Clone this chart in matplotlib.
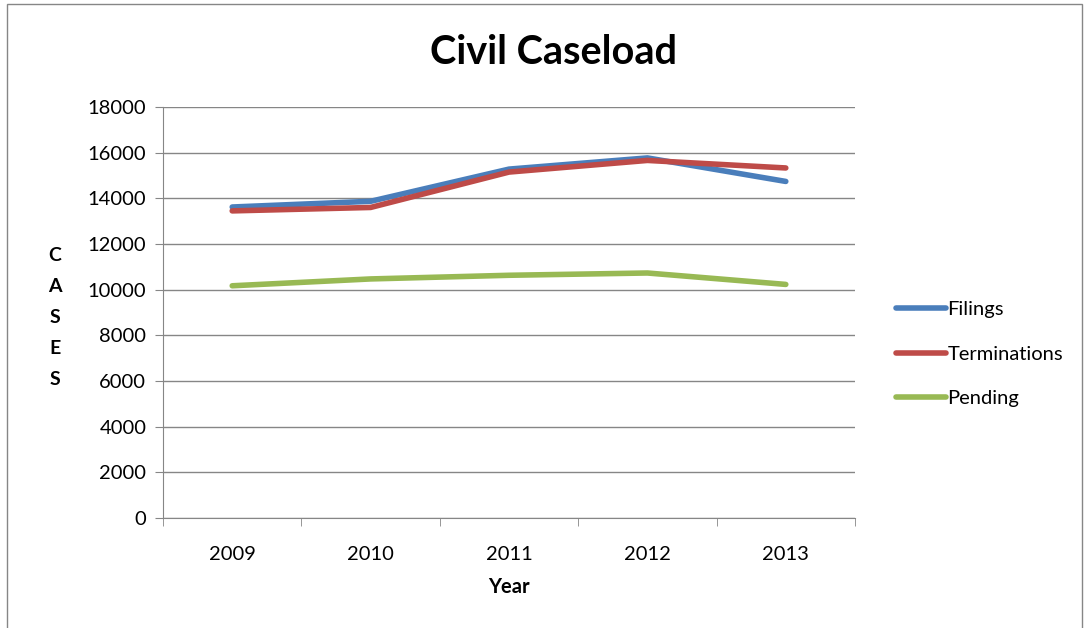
import matplotlib
matplotlib.use('Agg')
import matplotlib.pyplot as plt
from matplotlib.patches import Rectangle
import numpy

years = ['2009', '2010', '2011', '2012', '2013']
filings = [13620, 13870, 15280, 15770, 14740]
terminations = [13450, 13600, 15150, 15660, 15330]
pending = [10170, 10470, 10630, 10730, 10230]

plt.rcParams['font.family'] = ['Lato', 'DejaVu Sans']

fig = plt.figure(figsize=(10.89, 6.28), dpi=100)
ax = fig.add_axes([163 / 1089., 1 - 518 / 628., (855 - 163) / 1089., (518 - 107) / 628.])

# outer chart border (bottom edge pushed off the canvas)
fig.patches.append(Rectangle((7 / 1089., -0.05), 1075 / 1089., 1.05 - 4 / 628., transform=fig.transFigure,
                             fill=False, edgecolor='#868686', linewidth=1))

x = numpy.arange(len(years))
ax.plot(x, filings, color='#4A7EBB', linewidth=4, solid_capstyle='round', label='Filings')
ax.plot(x, terminations, color='#BE4B48', linewidth=4, solid_capstyle='round', label='Terminations')
ax.plot(x, pending, color='#98B954', linewidth=4, solid_capstyle='round', label='Pending')

ax.set_xlim(-0.5, len(years) - 0.5)
ax.set_ylim(0, 18000)
ax.set_yticks(numpy.arange(0, 18001, 2000))
ax.set_xticks(x)
ax.set_xticklabels(years)
ax.set_xticks(numpy.arange(-0.5, len(years), 1), minor=True)
ax.tick_params(axis='x', which='major', length=0, labelsize=14.5, pad=20)
ax.tick_params(axis='x', which='minor', length=6, color='#868686')
ax.tick_params(axis='y', length=6, color='#868686', labelsize=14.5, pad=6)

ax.grid(True, axis='y', color='#868686', linewidth=1)
ax.set_axisbelow(True)
for s in ['top', 'right']:
    ax.spines[s].set_visible(False)
for s in ['left', 'bottom']:
    ax.spines[s].set_color('#868686')

fig.text(553 / 1089., 1 - 52 / 628., 'Civil Caseload', ha='center', va='center',
         fontsize=28.5, fontweight='bold')
fig.text(509 / 1089., 1 - 587 / 628., 'Year', ha='center', va='center', fontsize=14.5, fontweight='bold')
fig.text(55 / 1089., 1 - 317 / 628., 'C\nA\nS\nE\nS', ha='center', va='center', fontsize=14,
         fontweight='bold', linespacing=2.0)

ax.legend(loc='center left', bbox_to_anchor=(878 / 1089., 1 - 354 / 628.), bbox_transform=fig.transFigure,
          frameon=False, fontsize=14.5, handlelength=2.5, handletextpad=0.05, labelspacing=1.35)

fig.savefig('out.png', dpi=100)
